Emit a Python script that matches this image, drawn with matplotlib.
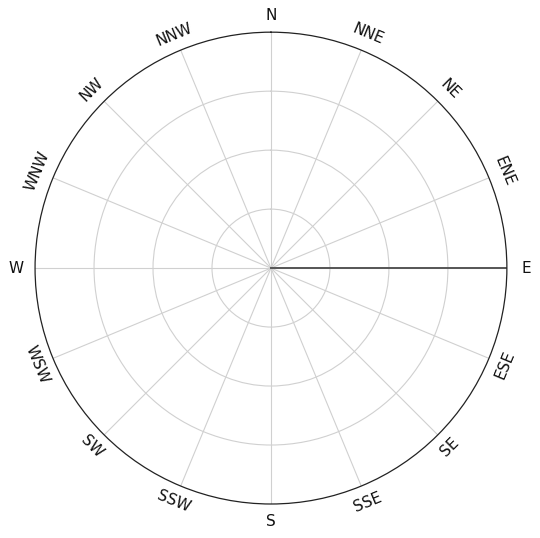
import numpy as np
import matplotlib
matplotlib.use("Agg")
import matplotlib.pyplot as plt

# =========================
# DATA
# =========================
directions = ["N", "NNE", "NE", "ENE", "E", "ESE", "SE", "SSE",
              "S", "SSW", "SW", "WSW", "W", "WNW", "NW", "NNW"]
bearings = [0, 22.5, 45, 67.5, 90, 112.5, 135, 157.5,
            180, 202.5, 225, 247.5, 270, 292.5, 315, 337.5]
radial_ticks = [1, 2, 3]
r_max = 4

# dark radial line (towards E)
line_bearing = [90, 90]
line_r = [0, 4]

# =========================
# FIGURE
# =========================
fig = plt.figure(figsize=(5.4, 5.38), dpi=100)
ax = fig.add_axes([0.0648, 0.0632, 0.874, 0.877], projection="polar")
ax.set_theta_zero_location("N")
ax.set_theta_direction(-1)

ax.set_ylim(0, r_max)
ax.set_yticks(radial_ticks)
ax.set_yticklabels([])
ax.set_xticks(np.deg2rad(bearings))
ax.set_xticklabels([])

ax.grid(True, color="#d0d0d0", linewidth=0.8)
ax.tick_params(axis="x", direction="out", length=5, width=0.8, color="#d0d0d0")
ax.spines["polar"].set_color("#222222")
ax.spines["polar"].set_linewidth(0.9)

ax.plot(np.deg2rad(line_bearing), line_r, color="#555555", linewidth=1.4)

# compass labels, kept upright and tangent to the circle
for name, b in zip(directions, bearings):
    if b <= 90:
        rot = -b
    elif b < 270:
        rot = 180 - b
    else:
        rot = 360 - b
    if b in (90, 270):
        rot = 0
    off = 0.33 if b in (90, 270) else 0.29
    ax.text(np.deg2rad(b), r_max + off, name, rotation=rot,
            rotation_mode="anchor", ha="center", va="center",
            fontsize=11, color="#111111", clip_on=False)

fig.savefig("out.png", dpi=100)
